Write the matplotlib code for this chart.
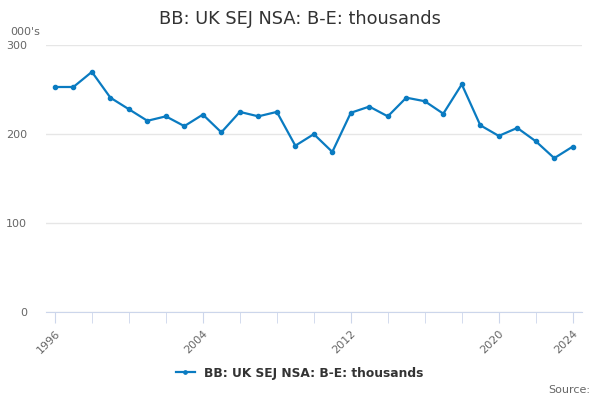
import matplotlib
matplotlib.use("Agg")
import matplotlib.pyplot as plt
from matplotlib.ticker import MultipleLocator

# Dados
anos = list(range(1996, 2025))
valores = [253, 253, 270, 241, 228, 215, 220, 209, 222, 202,
           225, 220, 225, 187, 200, 180, 224, 231, 220, 241,
           237, 223, 256, 210, 198, 207, 192, 173, 186]
ticks_y = [0, 100, 200, 300]
ticks_x = [1996, 2004, 2012, 2020, 2024]
titulo = "BB: UK SEJ NSA: B-E: thousands"

cor = "#0a7bc1"
cinza = "#666666"

fig = plt.figure(figsize=(6, 4), dpi=100)
ax = fig.add_axes([0.077, 0.22, 0.893, 0.667])

ax.plot(anos, valores, color=cor, linewidth=1.6, marker="o", markersize=3, label=titulo)

ax.set_xlim(1995.53, 2024.5)
ax.set_ylim(0, 300)
ax.set_yticks(ticks_y)
ax.set_xticks(ticks_x)
ax.xaxis.set_minor_locator(MultipleLocator(2))
ax.grid(axis="y", color="#e6e6e6", linewidth=1)
ax.set_axisbelow(True)

for lado in ["top", "right", "left"]:
    ax.spines[lado].set_visible(False)
ax.spines["bottom"].set_color("#ccd6eb")

ax.tick_params(axis="y", length=0, labelsize=8, labelcolor=cinza, pad=14)
ax.tick_params(axis="x", which="both", length=8, color="#ccd6eb", labelsize=8, labelcolor=cinza)
for lbl in ax.get_xticklabels():
    lbl.set_rotation(45)
    lbl.set_ha("right")
    lbl.set_rotation_mode("anchor")

fig.text(0.5, 0.953, titulo, ha="center", va="center", fontsize=12.8, color="#333333")
fig.text(0.017, 0.92, "000's", ha="left", va="center", fontsize=8, color=cinza)
fig.text(0.983, 0.025, "Source:", ha="right", va="center", fontsize=8, color=cinza)

fig.legend(loc="center", bbox_to_anchor=(0.5, 0.067), frameon=False,
           prop={"weight": "bold", "size": 8.8}, labelcolor="#333333",
           handlelength=1.5, markerscale=0.8)

fig.savefig("out.png", dpi=100)
